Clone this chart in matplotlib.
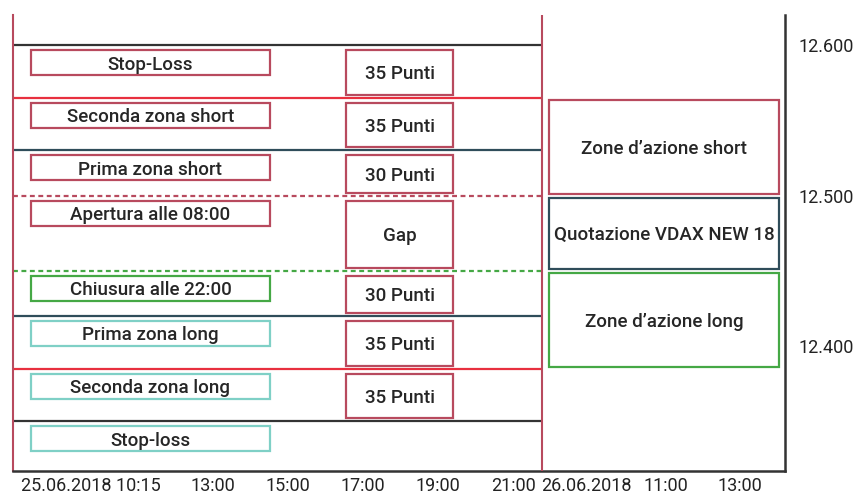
import matplotlib.pyplot as plt
from matplotlib.patches import Rectangle

# price levels (points), top to bottom
levels = [12600, 12565, 12530, 12500, 12450, 12420, 12385, 12350]
level_labels = ["Stop-Loss", "Seconda zona short", "Prima zona short",
                "Apertura alle 08:00", "Chiusura alle 22:00", "Prima zona long",
                "Seconda zona long", "Stop-loss"]
gap_labels = ["35 Punti", "35 Punti", "30 Punti", "Gap", "30 Punti",
              "35 Punti", "35 Punti"]

# action zones on the right: (top, bottom, text)
zone_tops = [12565, 12500, 12450]
zone_bottoms = [12500, 12450, 12385]
zone_labels = ["Zone d\u2019azione short", "Quotazione VDAX NEW 18",
               "Zone d\u2019azione long"]

# time axis in hours (second day squeezed after the close)
x_ticks = [9.75, 13, 15, 17, 19, 21, 22.95, 25.08, 27.05]
x_tick_labels = ["25.06.2018 10:15", "13:00", "15:00", "17:00", "19:00",
                 "21:00", "26.06.2018", "11:00", "13:00"]
y_ticks = [12400, 12500, 12600]
y_tick_labels = ["12.400", "12.500", "12.600"]

ROSE = "#b84a5e"
RED = "#e8303f"
TEAL = "#2f4d5a"
GREEN = "#45a845"
LTEAL = "#7fd0c6"
DARK = "#333333"

line_colors = [DARK, RED, TEAL, ROSE, GREEN, TEAL, RED, DARK]
line_styles = ["-", "-", "-", (0, (2.2, 1.6)), (0, (2.2, 1.6)), "-", "-", "-"]
box_colors = [ROSE, ROSE, ROSE, ROSE, GREEN, LTEAL, LTEAL, LTEAL]
zone_colors = [ROSE, TEAL, GREEN]

x_left, x_split, x_right = 7.67, 21.77, 28.25

label_font = ["Roboto", "DejaVu Sans"]
tick_font = ["Roboto", "DejaVu Sans"]
label_kw = dict(ha="center", va="center_baseline", fontsize=13.5,
                fontweight="medium", color="#262626", family=label_font)

fig = plt.figure(figsize=(8.55, 4.98), dpi=100)
ax = fig.add_axes([13 / 855, 27 / 498, 772 / 855, 456 / 498])
ax.set_xlim(x_left, x_right)
ax.set_ylim(12317, 12620)

# level lines across the first day
for lvl, c, ls in zip(levels, line_colors, line_styles):
    ax.plot([x_left, x_split], [lvl, lvl], color=c, lw=1.6, ls=ls,
            solid_capstyle="butt", zorder=2)

# session divider
ax.axvline(x_split, color=ROSE, lw=1.5, zorder=3)

# label boxes under each level
lab_x0, lab_x1 = 8.15, 14.52
box_h = 25 / 1.505
for lvl, text, c in zip(levels, level_labels, box_colors):
    top = lvl - 5 / 1.505
    ax.add_patch(Rectangle((lab_x0, top - box_h), lab_x1 - lab_x0, box_h,
                           fill=False, ec=c, lw=1.6, zorder=3))
    ax.text((lab_x0 + lab_x1) / 2, top - box_h / 2, text, **label_kw)

# distance boxes between consecutive levels
gap_x0, gap_x1 = 16.56, 19.41
for upper, lower, text in zip(levels[:-1], levels[1:], gap_labels):
    y0 = lower + 3 / 1.505
    y1 = upper - 5 / 1.505
    ax.add_patch(Rectangle((gap_x0, y0), gap_x1 - gap_x0, y1 - y0,
                           fill=False, ec=ROSE, lw=1.6, zorder=3))
    ax.text((gap_x0 + gap_x1) / 2, (y0 + y1) / 2, text, **label_kw)

# action zones on the second day
z_x0, z_x1 = 21.96, 28.08
for top, bottom, text, c in zip(zone_tops, zone_bottoms, zone_labels, zone_colors):
    y0 = bottom + 2 / 1.505
    y1 = top - 2 / 1.505
    ax.add_patch(Rectangle((z_x0, y0), z_x1 - z_x0, y1 - y0,
                           fill=False, ec=c, lw=1.6, zorder=3))
    ax.text((z_x0 + z_x1) / 2, (y0 + y1) / 2, text, **label_kw)

# frame
ax.spines["top"].set_visible(False)
ax.spines["left"].set_color(ROSE)
ax.spines["left"].set_linewidth(1.5)
ax.spines["right"].set_color(DARK)
ax.spines["right"].set_linewidth(1.8)
ax.spines["bottom"].set_color(DARK)
ax.spines["bottom"].set_linewidth(1.8)

ax.set_xticks(x_ticks)
ax.set_xticklabels(x_tick_labels, family=tick_font, fontsize=13, color="#222222")
ax.yaxis.tick_right()
ax.set_yticks(y_ticks)
ax.set_yticklabels(y_tick_labels, family=tick_font, fontsize=13, color="#222222")
ax.tick_params(axis="both", length=0)
ax.tick_params(axis="x", pad=4)
ax.tick_params(axis="y", pad=10)

fig.savefig("out.png", dpi=100)
